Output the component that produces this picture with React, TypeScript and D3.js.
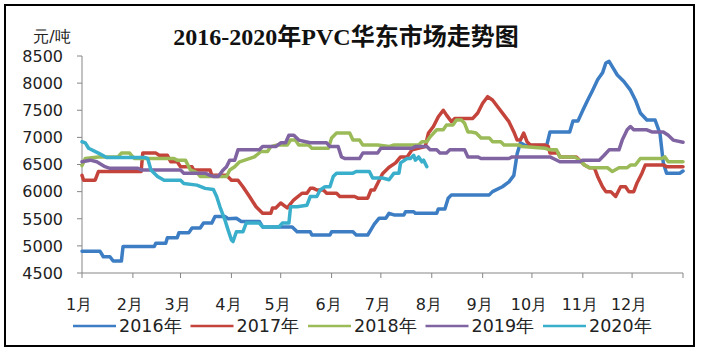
import React from "react";
import * as d3 from "d3";

// ---- data: [day of year, price 元/吨] ----
const years = ["2016年", "2017年", "2018年", "2019年", "2020年"];
const colors = ["#3C7DC4", "#C4443C", "#9BBB59", "#8064A2", "#3AAFCB"];
const monthLabels = ["1月", "2月", "3月", "4月", "5月", "6月", "7月", "8月", "9月", "10月", "11月", "12月"];
const yTicks = [4500, 5000, 5500, 6000, 6500, 7000, 7500, 8000, 8500];

const s2016: [number, number][] = [
  [0, 4900], [11, 4900], [13, 4800], [17, 4800], [19, 4720], [24, 4720], [25, 4990], [44, 4990], [45, 5050], [51, 5050],
  [52, 5150], [58, 5150], [59, 5240], [65, 5240], [67, 5330], [72, 5330], [74, 5420], [79, 5420], [81, 5540], [87, 5540],
  [89, 5500], [94, 5510], [97, 5450], [108, 5450], [110, 5350], [128, 5350], [131, 5260], [139, 5260], [140, 5200], [151, 5200],
  [152, 5260], [165, 5260], [167, 5200], [174, 5200], [176, 5300], [178, 5400], [181, 5510], [185, 5510], [187, 5600], [190, 5570],
  [196, 5570], [197, 5630], [202, 5630], [203, 5600], [216, 5600], [217, 5680], [221, 5680], [223, 5880], [225, 5940], [248, 5940],
  [250, 6000], [256, 6090], [260, 6180], [263, 6300], [265, 6700], [267, 6900], [270, 6850], [283, 6850], [285, 7100], [297, 7100],
  [299, 7300], [302, 7300], [305, 7500], [308, 7690], [311, 7870], [314, 8060], [317, 8190], [319, 8370], [321, 8400], [323, 8300],
  [326, 8150], [330, 8030], [334, 7870], [337, 7690], [340, 7450], [344, 7320], [349, 7320], [352, 7070], [354, 6530], [356, 6340],
  [364, 6340], [366, 6380],
];
const s2017: [number, number][] = [
  [0, 6300], [1, 6210], [8, 6210], [10, 6370], [36, 6370], [37, 6710], [45, 6710], [47, 6670], [52, 6670], [54, 6550],
  [58, 6550], [60, 6460], [67, 6460], [68, 6400], [78, 6400], [79, 6300], [88, 6300], [91, 6210], [95, 6210], [98, 6090],
  [102, 5910], [106, 5720], [110, 5600], [115, 5600], [116, 5700], [118, 5700], [121, 5790], [125, 5700], [129, 5850], [134, 5970],
  [137, 5970], [139, 6060], [141, 6060], [143, 6030], [147, 6030], [149, 5970], [155, 5970], [157, 5910], [166, 5910], [168, 5880],
  [174, 5880], [176, 6030], [178, 6030], [180, 6150], [183, 6330], [187, 6450], [191, 6530], [194, 6640], [198, 6640], [201, 6770],
  [209, 6830], [211, 7080], [214, 7200], [217, 7380], [220, 7500], [222, 7410], [225, 7290], [227, 7350], [238, 7350], [241, 7450],
  [244, 7630], [247, 7750], [250, 7690], [253, 7570], [257, 7410], [260, 7290], [263, 7100], [265, 6950], [267, 6950], [269, 7080],
  [271, 6920], [273, 6860], [282, 6860], [284, 6830], [285, 6710], [290, 6710], [291, 6640], [301, 6640], [303, 6580], [306, 6490],
  [309, 6440], [312, 6440], [314, 6280], [317, 6090], [319, 6000], [322, 6000], [325, 5910], [328, 6090], [331, 6090], [333, 6000],
  [336, 6000], [338, 6160], [341, 6340], [343, 6490], [354, 6490], [356, 6460], [366, 6460],
];
const s2018: [number, number][] = [
  [0, 6480], [2, 6610], [10, 6640], [22, 6640], [24, 6710], [29, 6710], [30, 6670], [32, 6610], [56, 6610], [58, 6580],
  [63, 6580], [66, 6400], [70, 6350], [72, 6280], [88, 6280], [90, 6400], [93, 6460], [96, 6550], [105, 6640], [109, 6740],
  [113, 6740], [115, 6830], [119, 6860], [125, 6860], [127, 6950], [130, 6950], [132, 6860], [138, 6860], [140, 6800], [150, 6800],
  [152, 6990], [155, 7080], [163, 7080], [165, 6950], [169, 6950], [171, 6860], [180, 6860], [187, 6830], [190, 6860], [205, 6860],
  [207, 6920], [210, 6920], [212, 7010], [216, 7140], [220, 7140], [222, 7230], [226, 7230], [228, 7320], [231, 7320], [233, 7260],
  [235, 7100], [237, 7100], [240, 7080], [243, 6990], [248, 6990], [250, 6920], [255, 6920], [257, 6860], [266, 6860], [268, 6830],
  [282, 6800], [285, 6770], [289, 6770], [291, 6640], [300, 6640], [303, 6580], [306, 6490], [309, 6440], [320, 6440], [323, 6370],
  [327, 6440], [332, 6440], [334, 6490], [337, 6490], [340, 6610], [353, 6610], [355, 6640], [357, 6550], [366, 6550],
];
const s2019: [number, number][] = [
  [0, 6550], [5, 6580], [9, 6550], [14, 6460], [17, 6430], [34, 6430], [36, 6400], [60, 6400], [62, 6340], [75, 6340],
  [78, 6300], [80, 6280], [83, 6280], [86, 6400], [88, 6460], [90, 6580], [93, 6580], [95, 6770], [108, 6770], [110, 6830],
  [118, 6830], [121, 6900], [124, 6900], [126, 7040], [129, 7040], [132, 6950], [139, 6900], [149, 6900], [151, 6830], [156, 6830],
  [158, 6640], [160, 6610], [169, 6610], [171, 6710], [180, 6710], [182, 6800], [201, 6800], [203, 6830], [210, 6830], [212, 6770],
  [216, 6770], [218, 6710], [222, 6710], [224, 6770], [233, 6770], [235, 6640], [241, 6640], [243, 6610], [260, 6610], [262, 6640],
  [285, 6640], [287, 6610], [291, 6550], [303, 6550], [305, 6580], [315, 6580], [318, 6670], [321, 6770], [327, 6770], [329, 6950],
  [332, 7140], [334, 7200], [336, 7140], [344, 7140], [347, 7100], [354, 7100], [357, 7040], [360, 6950], [366, 6910],
];
const s2020: [number, number][] = [
  [0, 6920], [2, 6900], [4, 6800], [10, 6710], [15, 6630], [38, 6630], [40, 6610], [42, 6400], [46, 6280], [50, 6210],
  [60, 6210], [62, 6150], [70, 6120], [75, 6060], [80, 6040], [82, 5910], [84, 5720], [87, 5480], [89, 5290], [91, 5110],
  [92, 5080], [94, 5260], [98, 5260], [100, 5420], [108, 5420], [110, 5350], [120, 5350], [122, 5420], [126, 5420], [127, 5720],
  [131, 5720], [137, 5750], [139, 5910], [143, 5910], [145, 6030], [148, 6090], [151, 6090], [153, 6280], [155, 6340], [165, 6340],
  [167, 6370], [175, 6370], [177, 6250], [183, 6250], [187, 6220], [190, 6340], [193, 6340], [194, 6530], [198, 6610], [200, 6610],
  [202, 6670], [203, 6580], [205, 6640], [207, 6550], [208, 6580], [210, 6460],
];
const series = [s2016, s2017, s2018, s2019, s2020];

const W = 701;
const H = 357;
const start = new Date(2016, 0, 1);
const end = new Date(2017, 0, 1);
const toDate = (d: number) => d3.timeDay.offset(start, d);

export default function App() {
  const x = d3.scaleTime().domain([start, end]).range([82, 683]);
  const y = d3.scaleLinear().domain([4500, 8500]).range([273, 56]);
  const monthStarts = d3.timeMonth.range(start, end);
  const tickDates = [...monthStarts, end];
  const line = d3
    .line<[number, number]>()
    .x((d) => x(toDate(d[0])))
    .y((d) => y(d[1]))
    .curve(d3.curveLinear);
  const axisColor = "#868686";
  const font = "'DejaVu Sans', Verdana, sans-serif";
  const legendX0 = 73;
  const legendStep = 117.5;

  return (
    <svg width={W} height={H} style={{ position: "absolute", left: 0, top: 0, background: "#fff" }}>
      <rect x={0} y={0} width={W} height={H} fill="#fff" />
      <rect x={5} y={5} width={689} height={341} fill="#fff" stroke="#000" strokeWidth={2} />
      <text
        x={346}
        y={45}
        textAnchor="middle"
        fontFamily="'Liberation Serif', 'Noto Sans CJK SC', serif"
        fontWeight="bold"
        fontSize={24}
        fill="#111"
      >
        2016-2020年PVC华东市场走势图
      </text>
      <text x={52} y={42} textAnchor="middle" fontFamily={font} fontSize={16} fill="#222">
        元/吨
      </text>
      {/* y axis */}
      <line x1={82} x2={82} y1={y(8500)} y2={y(4500)} stroke={axisColor} strokeWidth={1} />
      {yTicks.map((t) => (
        <g key={t}>
          <line x1={77} x2={82} y1={y(t)} y2={y(t)} stroke={axisColor} />
          <text x={63} y={y(t)} dy="0.36em" textAnchor="end" fontFamily={font} fontSize={16} fill="#222">
            {t}
          </text>
        </g>
      ))}
      {/* x axis */}
      <line x1={82} x2={683} y1={273} y2={273} stroke={axisColor} />
      {tickDates.map((d, i) => (
        <line key={i} x1={x(d)} x2={x(d)} y1={273} y2={278} stroke={axisColor} />
      ))}
      {monthStarts.map((d, i) => (
        <text key={i} x={x(d) - 3} y={310} textAnchor="middle" fontFamily={font} fontSize={16} fill="#222">
          {monthLabels[i]}
        </text>
      ))}
      {/* series */}
      {series.map((s, i) => (
        <path
          key={i}
          d={line(s) || ""}
          fill="none"
          stroke={colors[i]}
          strokeWidth={3.5}
          strokeLinejoin="round"
          strokeLinecap="round"
        />
      ))}
      {/* legend */}
      {years.map((yr, i) => {
        const lx = legendX0 + i * legendStep;
        return (
          <g key={yr}>
            <line x1={lx} x2={lx + 43} y1={326} y2={326} stroke={colors[i]} strokeWidth={2.5} />
            <text x={lx + 46} y={326} dy="0.36em" fontFamily={font} fontSize={17.5} fill="#222">
              {yr}
            </text>
          </g>
        );
      })}
    </svg>
  );
}
